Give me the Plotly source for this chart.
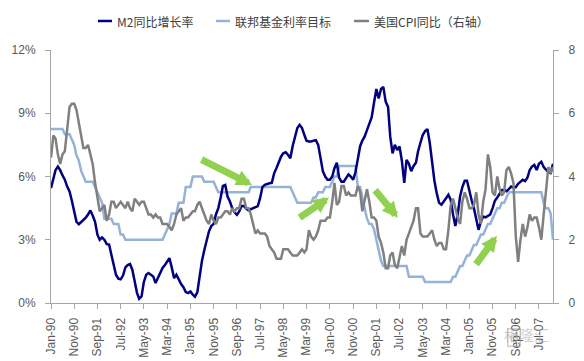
import pandas as pd
import plotly.graph_objects as go

# ---------------- data (monthly, Jan-1990 .. Jan-2008) ----------------
start_month = "1990-01-01"
n_months = 217

m2_growth = [
    5.45, 5.92, 6.30, 6.47, 6.30, 6.05, 5.85, 5.52, 5.29, 4.85, 4.30, 3.85,   # 1990
    3.74, 3.84, 3.95, 4.05, 4.20, 4.39, 4.15, 3.85, 3.24, 3.00, 3.11, 3.00,   # 1991
    2.79, 2.77, 2.30, 1.80, 1.34, 1.15, 1.12, 1.30, 1.69, 1.80, 1.85, 1.58,   # 1992
    1.02, 0.47, 0.20, 0.31, 1.00, 1.34, 1.42, 1.35, 1.26, 0.95, 1.20, 1.40,   # 1993
    1.66, 1.80, 1.95, 2.13, 1.69, 1.18, 1.34, 1.10, 0.90, 0.75, 0.52, 0.47,   # 1994
    0.55, 0.39, 0.30, 0.50, 1.25, 2.00, 2.50, 3.00, 3.40, 3.65, 3.75, 4.20,   # 1995
    4.50, 5.00, 5.55, 5.60, 5.05, 4.81, 4.50, 4.30, 4.18, 4.34, 4.60, 4.60,   # 1996
    4.47, 4.40, 4.45, 4.50, 4.55, 4.60, 4.97, 5.50, 5.60, 5.65, 5.68, 5.70,   # 1997
    6.15, 6.40, 6.70, 6.94, 7.10, 7.15, 7.03, 6.87, 7.45, 7.90, 8.30, 8.45,   # 1998
    8.30, 7.97, 7.70, 7.66, 7.66, 7.70, 7.72, 7.50, 6.90, 6.25, 6.00, 5.85,   # 1999
    5.85, 6.00, 6.39, 6.65, 5.95, 5.75, 5.75, 5.90, 6.10, 6.00, 5.85, 6.20,   # 2000
    6.85, 7.45, 7.70, 7.90, 8.20, 8.55, 8.80, 9.50, 10.15, 9.70, 10.15, 10.25, # 2001
    9.55, 9.30, 7.90, 7.10, 7.50, 7.26, 7.42, 6.75, 5.70, 6.79, 6.60, 6.25,   # 2002
    6.50, 6.65, 7.20, 7.60, 7.97, 8.15, 8.25, 7.60, 6.60, 5.80, 5.20, 4.75,   # 2003
    4.66, 4.80, 4.97, 5.13, 4.90, 4.20, 3.65, 4.20, 5.05, 5.50, 5.80, 5.80,   # 2004
    5.29, 4.85, 4.50, 3.90, 3.47, 3.87, 4.10, 4.06, 4.12, 4.20, 4.50, 4.85,   # 2005
    5.00, 5.20, 5.35, 5.37, 5.30, 5.40, 5.52, 5.47, 5.50, 5.65, 5.76, 5.84,   # 2006
    5.78, 5.95, 6.30, 6.47, 6.55, 6.31, 6.60, 6.70, 6.45, 6.30, 6.20, 6.16,   # 2007
    6.60,                                                                       # 2008
]

fed_funds_target = [
    8.25, 8.25, 8.25, 8.25, 8.25, 8.25, 8.00, 8.00, 8.00, 7.75, 7.50, 7.00,   # 1990
    6.75, 6.25, 6.00, 5.75, 5.75, 5.75, 5.75, 5.50, 5.25, 5.00, 4.75, 4.00,   # 1991
    4.00, 4.00, 4.00, 3.75, 3.75, 3.75, 3.25, 3.25, 3.00, 3.00, 3.00, 3.00,   # 1992
    3.00, 3.00, 3.00, 3.00, 3.00, 3.00, 3.00, 3.00, 3.00, 3.00, 3.00, 3.00,   # 1993
    3.00, 3.25, 3.50, 3.75, 4.25, 4.25, 4.25, 4.75, 4.75, 4.75, 5.50, 5.50,   # 1994
    5.50, 6.00, 6.00, 6.00, 6.00, 6.00, 5.75, 5.75, 5.75, 5.75, 5.75, 5.50,   # 1995
    5.25, 5.25, 5.25, 5.25, 5.25, 5.25, 5.25, 5.25, 5.25, 5.25, 5.25, 5.25,   # 1996
    5.25, 5.25, 5.50, 5.50, 5.50, 5.50, 5.50, 5.50, 5.50, 5.50, 5.50, 5.50,   # 1997
    5.50, 5.50, 5.50, 5.50, 5.50, 5.50, 5.50, 5.50, 5.25, 5.00, 4.75, 4.75,   # 1998
    4.75, 4.75, 4.75, 4.75, 4.75, 5.00, 5.00, 5.25, 5.25, 5.25, 5.50, 5.50,   # 1999
    5.50, 5.75, 6.00, 6.00, 6.50, 6.50, 6.50, 6.50, 6.50, 6.50, 6.50, 6.50,   # 2000
    5.50, 5.50, 5.00, 4.50, 4.00, 3.75, 3.75, 3.50, 3.00, 2.50, 2.00, 1.75,   # 2001
    1.75, 1.75, 1.75, 1.75, 1.75, 1.75, 1.75, 1.75, 1.75, 1.75, 1.25, 1.25,   # 2002
    1.25, 1.25, 1.25, 1.25, 1.25, 1.00, 1.00, 1.00, 1.00, 1.00, 1.00, 1.00,   # 2003
    1.00, 1.00, 1.00, 1.00, 1.00, 1.25, 1.25, 1.50, 1.75, 1.75, 2.00, 2.25,   # 2004
    2.25, 2.50, 2.75, 2.75, 3.00, 3.25, 3.25, 3.50, 3.75, 3.75, 4.00, 4.25,   # 2005
    4.50, 4.50, 4.75, 4.75, 5.00, 5.25, 5.25, 5.25, 5.25, 5.25, 5.25, 5.25,   # 2006
    5.25, 5.25, 5.25, 5.25, 5.25, 5.25, 5.25, 5.25, 4.75, 4.50, 4.50, 4.25,   # 2007
    3.00,                                                                       # 2008
]

us_cpi_yoy = [
    4.6, 5.3, 5.2, 4.7, 4.4, 4.7, 4.8, 5.6, 6.2, 6.3, 6.3, 6.1,   # 1990
    5.7, 5.3, 4.9, 4.9, 5.0, 4.7, 4.4, 3.8, 3.4, 2.9, 3.0, 3.1,   # 1991
    2.6, 2.8, 3.2, 3.2, 3.0, 3.1, 3.2, 3.1, 3.0, 3.2, 3.0, 2.9,   # 1992
    3.3, 3.2, 3.1, 3.2, 3.2, 3.0, 2.8, 2.8, 2.7, 2.8, 2.7, 2.7,   # 1993
    2.5, 2.5, 2.5, 2.4, 2.3, 2.5, 2.8, 2.9, 3.0, 2.6, 2.7, 2.7,   # 1994
    2.8, 2.9, 2.9, 3.1, 3.2, 3.0, 2.8, 2.6, 2.5, 2.8, 2.6, 2.5,   # 1995
    2.7, 2.7, 2.8, 2.9, 2.9, 2.8, 3.0, 2.9, 3.0, 3.0, 3.3, 3.3,   # 1996
    3.0, 3.0, 2.8, 2.5, 2.2, 2.3, 2.2, 2.2, 2.2, 2.1, 1.8, 1.7,   # 1997
    1.6, 1.4, 1.4, 1.4, 1.7, 1.7, 1.7, 1.6, 1.5, 1.5, 1.5, 1.6,   # 1998
    1.7, 1.6, 1.7, 2.3, 2.1, 2.0, 2.1, 2.3, 2.6, 2.6, 2.6, 2.7,   # 1999
    2.7, 3.2, 3.8, 3.1, 3.2, 3.7, 3.7, 3.4, 3.5, 3.4, 3.4, 3.4,   # 2000
    3.7, 3.5, 2.9, 3.3, 3.6, 3.2, 2.7, 2.7, 2.6, 2.1, 1.9, 1.6,   # 2001
    1.1, 1.1, 1.5, 1.6, 1.2, 1.1, 1.5, 1.8, 1.5, 2.0, 2.2, 2.4,   # 2002
    2.6, 3.0, 3.0, 2.2, 2.1, 2.1, 2.1, 2.2, 2.3, 2.0, 1.8, 1.9,   # 2003
    1.9, 1.7, 1.7, 2.3, 3.1, 3.3, 3.0, 2.7, 2.5, 3.2, 3.5, 3.3,   # 2004
    3.0, 3.0, 3.1, 3.5, 2.8, 2.5, 3.2, 3.6, 4.7, 4.3, 3.5, 3.4,   # 2005
    4.0, 3.6, 3.4, 3.5, 4.2, 4.3, 4.1, 3.8, 2.1, 1.3, 2.0, 2.5,   # 2006
    2.1, 2.4, 2.8, 2.6, 2.7, 2.7, 2.4, 2.0, 2.8, 3.5, 4.3, 4.1,   # 2007
    4.3,                                                          # 2008
]

series_names = ["M2同比增长率", "联邦基金利率目标", "美国CPI同比（右轴）"]
series_colors = ["#000080", "#95B3D7", "#808080"]

left_ticks = [0, 3, 6, 9, 12]
left_tick_text = ["0%", "3%", "6%", "9%", "12%"]
right_ticks = [0, 2, 4, 6, 8]
right_tick_text = ["0", "2", "4", "6", "8"]

dates = pd.date_range(start_month, periods=n_months, freq="MS")

# ---------------- figure ----------------
fig = go.Figure()
fig.add_trace(go.Scatter(x=dates, y=fed_funds_target, name=series_names[1], mode="lines",
                         line=dict(color=series_colors[1], width=2.5), showlegend=False))
fig.add_trace(go.Scatter(x=dates, y=us_cpi_yoy, name=series_names[2], mode="lines", yaxis="y2",
                         line=dict(color=series_colors[2], width=2.5), showlegend=False))
fig.add_trace(go.Scatter(x=dates, y=m2_growth, name=series_names[0], mode="lines",
                         line=dict(color=series_colors[0], width=2.5), showlegend=False))

axis_col = "#A6A6A6"
tick_font = dict(family="Liberation Sans, Arial, sans-serif", size=12, color="#595959")

# the page body adds an 8px offset, so the figure is sized to fit the 584x361 window
fig_w, fig_h = 576, 353
mar = dict(l=43, r=31, t=42, b=58)

fig.update_layout(
    template="none",
    width=fig_w, height=fig_h,
    margin=dict(**mar, autoexpand=False),
    paper_bgcolor="white", plot_bgcolor="white",
    xaxis=dict(type="date", range=[dates[0], dates[-1]], automargin=False,
               tick0=start_month, dtick="M10", tickformat="%b-%y", tickangle=-90,
               showline=True, linecolor=axis_col, linewidth=1, mirror=False,
               ticks="outside", ticklen=5, tickcolor=axis_col, tickwidth=1,
               ticklabelstandoff=4,
               showgrid=False, zeroline=False, tickfont=tick_font),
    yaxis=dict(range=[0, 12], tickvals=left_ticks, ticktext=left_tick_text, automargin=False,
               showline=True, linecolor=axis_col, linewidth=1,
               ticks="outside", ticklen=5, tickcolor=axis_col, tickwidth=1,
               ticklabelstandoff=7,
               showgrid=False, zeroline=False, tickfont=tick_font),
    yaxis2=dict(range=[0, 8], tickvals=right_ticks, ticktext=right_tick_text,
                overlaying="y", side="right", automargin=False,
                showline=True, linecolor=axis_col, linewidth=1,
                ticks="outside", ticklen=5, tickcolor=axis_col, tickwidth=1,
                ticklabelstandoff=7,
                showgrid=False, zeroline=False, tickfont=tick_font),
)

# ---------------- manual legend (short line samples) ----------------
plot_w = fig_w - mar["l"] - mar["r"]
plot_h = fig_h - mar["t"] - mar["b"]
off = 8  # page offset
def px(x):
    return (x - off - mar["l"]) / plot_w
def py(y):
    return (fig_h - mar["b"] + off - y) / plot_h

legend_y = 21
legend_items = [(98, 112, 115), (216, 230, 233), (354, 369, 372)]
for (x0, x1, tx), name, col in zip(legend_items, series_names, series_colors):
    fig.add_shape(type="line", xref="paper", yref="paper",
                  x0=px(x0), x1=px(x1), y0=py(legend_y), y1=py(legend_y),
                  line=dict(color=col, width=2.5))
    fig.add_annotation(xref="paper", yref="paper", x=px(tx), y=py(legend_y),
                       text=name, showarrow=False, xanchor="left", yanchor="middle",
                       font=dict(family="Noto Sans CJK SC, sans-serif", size=12, color="#404040"))

# ---------------- green arrows ----------------
arrows = [  # (tip date, tip value on left axis, tail dx px, tail dy px)
    ("1997-03-18", 5.6, -52, -26),
    ("1999-12-22", 5.0, -31, 21),
    ("2002-06-10", 4.04, -24, -29),
    ("2005-12-28", 3.19, -22, 30),
]
for d, v, ax, ay in arrows:
    fig.add_annotation(x=d, y=v, xref="x", yref="y", ax=ax, ay=ay, text="",
                       showarrow=True, arrowhead=2, arrowsize=0.45, arrowwidth=7,
                       arrowcolor="#92D050", standoff=0)

# ---------------- watermark ----------------
fig.add_annotation(xref="paper", yref="paper", x=px(551), y=py(347), text="格隆汇",
                   showarrow=False, font=dict(family="Noto Sans CJK SC", size=15,
                                              color="rgba(160,160,160,0.5)"))
fig.add_annotation(xref="paper", yref="paper", x=px(521), y=py(347), text="G",
                   showarrow=False, bordercolor="rgba(160,160,160,0.5)", borderwidth=1.5,
                   borderpad=1,
                   font=dict(family="Liberation Sans", size=12, color="rgba(160,160,160,0.5)"))

fig.write_html("out.html")
